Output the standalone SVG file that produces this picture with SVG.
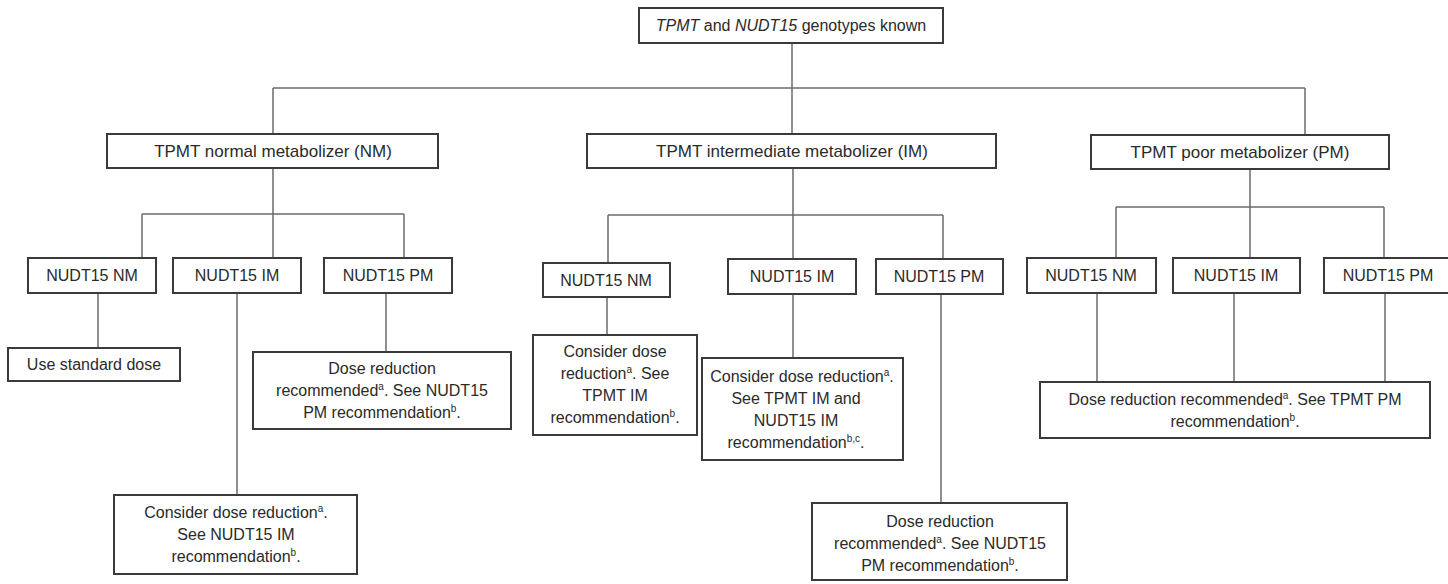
<svg xmlns="http://www.w3.org/2000/svg" width="1448" height="584" viewBox="0 0 1448 584">
<style>
  .box { fill: #ffffff; stroke: #3a3a3a; stroke-width: 2; }
  .t { font-family: "Liberation Sans", Arial, sans-serif; font-size: 16px; fill: #2a2a2a; text-anchor: middle; }
  .tl { font-size: 17px; }
  .it { font-style: italic; }
  .sup { font-size: 10px; }
  #connectors line { stroke: #6a6a6a; stroke-width: 1.5; }
</style>
<rect x="0" y="0" width="1448" height="584" fill="#ffffff"/>

<g id="connectors">
  <line x1="792" y1="43" x2="792" y2="88"/>
  <line x1="273" y1="88" x2="1305" y2="88"/>
  <line x1="273" y1="88" x2="273" y2="134"/>
  <line x1="792" y1="88" x2="792" y2="134"/>
  <line x1="1305" y1="88" x2="1305" y2="135"/>

  <line x1="273" y1="168" x2="273" y2="214"/>
  <line x1="142" y1="214" x2="404" y2="214"/>
  <line x1="142" y1="214" x2="142" y2="258"/>
  <line x1="273" y1="214" x2="273" y2="258"/>
  <line x1="404" y1="214" x2="404" y2="258"/>
  <line x1="98" y1="293" x2="98" y2="348"/>
  <line x1="237" y1="293" x2="237" y2="495"/>
  <line x1="386" y1="293" x2="386" y2="352"/>

  <line x1="793" y1="168" x2="793" y2="215"/>
  <line x1="608" y1="215" x2="943" y2="215"/>
  <line x1="608" y1="215" x2="608" y2="263"/>
  <line x1="793" y1="215" x2="793" y2="259"/>
  <line x1="943" y1="215" x2="943" y2="259"/>
  <line x1="607" y1="297" x2="607" y2="335"/>
  <line x1="793" y1="294" x2="793" y2="358"/>
  <line x1="941" y1="294" x2="941" y2="503"/>

  <line x1="1250" y1="169" x2="1250" y2="207"/>
  <line x1="1116" y1="207" x2="1384" y2="207"/>
  <line x1="1116" y1="207" x2="1116" y2="258"/>
  <line x1="1250" y1="207" x2="1250" y2="258"/>
  <line x1="1384" y1="207" x2="1384" y2="258"/>
  <line x1="1097" y1="293" x2="1097" y2="382"/>
  <line x1="1234" y1="293" x2="1234" y2="382"/>
  <line x1="1385" y1="293" x2="1385" y2="382"/>
</g>

<g id="root">
  <rect class="box" x="639" y="8" width="304" height="35"/>
  <text class="t" x="791" y="31"><tspan class="it">TPMT</tspan> and <tspan class="it">NUDT15</tspan> genotypes known</text>
</g>

<g id="tpmt-nm">
  <rect class="box" x="107" y="134" width="331" height="34"/>
  <text class="t tl" x="273" y="157">TPMT normal metabolizer (NM)</text>
</g>
<g id="tpmt-im">
  <rect class="box" x="587" y="134" width="409" height="34"/>
  <text class="t tl" x="792" y="157">TPMT intermediate metabolizer (IM)</text>
</g>
<g id="tpmt-pm">
  <rect class="box" x="1091" y="135" width="298" height="34"/>
  <text class="t tl" x="1240" y="158">TPMT poor metabolizer (PM)</text>
</g>

<g id="nm-nudt-nm">
  <rect class="box" x="28" y="258" width="128" height="35"/>
  <text class="t" x="92" y="281">NUDT15 NM</text>
</g>
<g id="nm-nudt-im">
  <rect class="box" x="173" y="258" width="128" height="35"/>
  <text class="t" x="237" y="281">NUDT15 IM</text>
</g>
<g id="nm-nudt-pm">
  <rect class="box" x="324" y="258" width="128" height="35"/>
  <text class="t" x="388" y="281">NUDT15 PM</text>
</g>
<g id="nm-nm-result">
  <rect class="box" x="8" y="348" width="172" height="33"/>
  <text class="t" x="94" y="370">Use standard dose</text>
</g>
<g id="nm-im-result">
  <rect class="box" x="114" y="495" width="243" height="79"/>
  <text class="t" x="236" y="518">Consider dose reduction<tspan class="sup" dy="-6">a</tspan><tspan dy="6">.</tspan></text>
  <text class="t" x="236" y="540">See NUDT15 IM</text>
  <text class="t" x="236" y="562">recommendation<tspan class="sup" dy="-6">b</tspan><tspan dy="6">.</tspan></text>
</g>
<g id="nm-pm-result">
  <rect class="box" x="253" y="352" width="258" height="77"/>
  <text class="t" x="382" y="374">Dose reduction</text>
  <text class="t" x="382" y="396">recommended<tspan class="sup" dy="-6">a</tspan><tspan dy="6">. See NUDT15</tspan></text>
  <text class="t" x="382" y="418">PM recommendation<tspan class="sup" dy="-6">b</tspan><tspan dy="6">.</tspan></text>
</g>

<g id="im-nudt-nm">
  <rect class="box" x="543" y="263" width="127" height="34"/>
  <text class="t" x="606" y="286">NUDT15 NM</text>
</g>
<g id="im-nudt-im">
  <rect class="box" x="728" y="259" width="128" height="35"/>
  <text class="t" x="792" y="282">NUDT15 IM</text>
</g>
<g id="im-nudt-pm">
  <rect class="box" x="876" y="259" width="127" height="35"/>
  <text class="t" x="939" y="282">NUDT15 PM</text>
</g>
<g id="im-nm-result">
  <rect class="box" x="533" y="335" width="164" height="100"/>
  <text class="t" x="615" y="357">Consider dose</text>
  <text class="t" x="615" y="379">reduction<tspan class="sup" dy="-6">a</tspan><tspan dy="6">. See</tspan></text>
  <text class="t" x="615" y="401">TPMT IM</text>
  <text class="t" x="615" y="423">recommendation<tspan class="sup" dy="-6">b</tspan><tspan dy="6">.</tspan></text>
</g>
<g id="im-im-result">
  <rect class="box" x="702" y="358" width="201" height="102"/>
  <text class="t" x="802" y="382">Consider dose reduction<tspan class="sup" dy="-6">a</tspan><tspan dy="6">.</tspan></text>
  <text class="t" x="796" y="404">See TPMT IM and</text>
  <text class="t" x="796" y="426">NUDT15 IM</text>
  <text class="t" x="796" y="448">recommendation<tspan class="sup" dy="-6">b,c</tspan><tspan dy="6">.</tspan></text>
</g>
<g id="im-pm-result">
  <rect class="box" x="812" y="503" width="255" height="77"/>
  <text class="t" x="940" y="527">Dose reduction</text>
  <text class="t" x="940" y="549">recommended<tspan class="sup" dy="-6">a</tspan><tspan dy="6">. See NUDT15</tspan></text>
  <text class="t" x="940" y="571">PM recommendation<tspan class="sup" dy="-6">b</tspan><tspan dy="6">.</tspan></text>
</g>

<g id="pm-nudt-nm">
  <rect class="box" x="1027" y="258" width="129" height="35"/>
  <text class="t" x="1091" y="281">NUDT15 NM</text>
</g>
<g id="pm-nudt-im">
  <rect class="box" x="1173" y="258" width="127" height="35"/>
  <text class="t" x="1236" y="281">NUDT15 IM</text>
</g>
<g id="pm-nudt-pm">
  <rect class="box" x="1324" y="258" width="128" height="35"/>
  <text class="t" x="1388" y="281">NUDT15 PM</text>
</g>
<g id="pm-result">
  <rect class="box" x="1040" y="382" width="390" height="56"/>
  <text class="t" x="1235" y="405">Dose reduction recommended<tspan class="sup" dy="-6">a</tspan><tspan dy="6">. See TPMT PM</tspan></text>
  <text class="t" x="1235" y="427">recommendation<tspan class="sup" dy="-6">b</tspan><tspan dy="6">.</tspan></text>
</g>
</svg>
